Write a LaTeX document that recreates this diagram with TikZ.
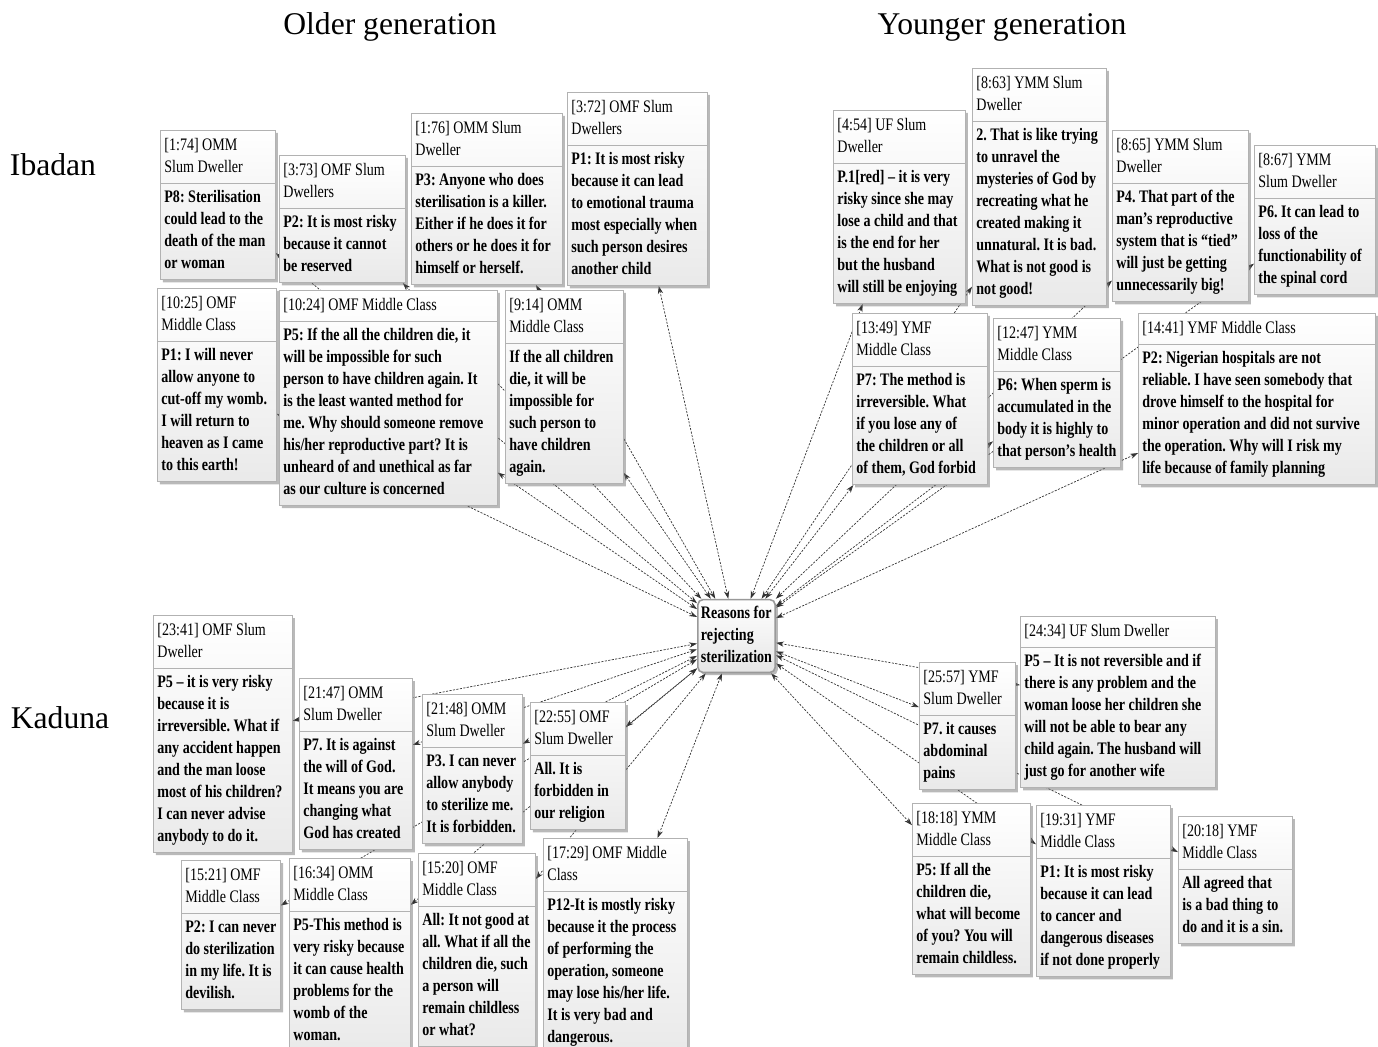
\documentclass[tikz,border=0pt]{standalone}
\usepackage{fontspec}
\setmainfont{Liberation Serif}
\newfontfamily\netfont{Liberation Serif}[FakeStretch=0.8]
\usetikzlibrary{shapes.multipart,shadows,arrows.meta,backgrounds}
\newcommand\qlines[1]{\begin{tabular}{@{}l@{}}#1\end{tabular}}
\frenchspacing

\begin{document}
\begin{tikzpicture}
        [x=0.02cm,y=-0.02cm,
         qbox/.style={rectangle split,rectangle split parts=2,draw=gray!60,
           rectangle split part align=left,minimum width=#1,
           top color=white,bottom color=gray!17,
           drop shadow={shadow xshift=1.5pt,shadow yshift=-1.5pt,fill=black!55},
           anchor=north west,inner xsep=2.3pt,inner ysep=2.3pt,
           font=\netfont\fontsize{10}{12.5}\selectfont},
         hub/.style={draw=gray!80,line width=0.9pt,rounded corners=3pt,
           top color=white,bottom color=gray!20,
           drop shadow={shadow xshift=1.5pt,shadow yshift=-1.5pt,fill=black!55},
           inner xsep=1.8pt,inner ysep=2pt,
           font=\netfont\bfseries\fontsize{10}{12.5}\selectfont},
         link/.style={black!80,line width=0.4pt,dash pattern=on 1.2pt off 0.8pt,
           {Stealth[length=4.5pt,width=3pt]}-{Stealth[length=4.5pt,width=3pt]}},
         heading/.style={font=\fontsize{18}{20}\selectfont}]
        \useasboundingbox (0,0) rectangle (1378,1046);

        \node[heading] (old) at (390,27) {Older generation};
        \node[heading] (young) at (1002,27) {Younger generation};
        \node[heading] (ib) at (53,165) {Ibadan};
        \node[heading] (ka) at (60,718) {Kaduna};

        \node[hub] (R) at (736.5,636) {\qlines{Reasons for\\rejecting\\sterilization}};

        % Ibadan, older generation
        \node[qbox=2.30cm] (I1) at (160,130) {\qlines{[1:74] OMM\\Slum Dweller}\nodepart{two}\bfseries\qlines{P8: Sterilisation\\could lead to the\\death of the man\\or woman}};
        \node[qbox=2.52cm] (I2) at (279,155) {\qlines{[3:73] OMF Slum\\Dwellers}\nodepart{two}\bfseries\qlines{P2: It is most risky\\because it cannot\\be reserved}};
        \node[qbox=3.02cm] (I3) at (411,113) {\qlines{[1:76] OMM Slum\\Dweller}\nodepart{two}\bfseries\qlines{P3: Anyone who does\\sterilisation is a killer.\\Either if he does it for\\others or he does it for\\himself or herself.}};
        \node[qbox=2.80cm] (I4) at (567,92) {\qlines{[3:72] OMF Slum\\Dwellers}\nodepart{two}\bfseries\qlines{P1: It is most risky\\because it can lead\\to emotional trauma\\most especially when\\such person desires\\another child}};
        \node[qbox=2.38cm] (I5) at (157,288) {\qlines{[10:25] OMF\\Middle Class}\nodepart{two}\bfseries\qlines{P1: I will never\\allow anyone to\\cut-off my womb.\\I will return to\\heaven as I came\\to this earth!}};
        \node[qbox=4.36cm] (I6) at (279,290) {\qlines{[10:24] OMF Middle Class}\nodepart{two}\bfseries\qlines{P5: If the all the children die, it\\will be impossible for such\\person to have children again. It\\is the least wanted method for\\me. Why should someone remove\\his/her reproductive part? It is\\unheard of and unethical as far\\as our culture is concerned}};
        \node[qbox=2.36cm] (I7) at (505,290) {\qlines{[9:14] OMM\\Middle Class}\nodepart{two}\bfseries\qlines{If the all children\\die, it will be\\impossible for\\such person to\\have children\\again.}};

        % Ibadan, younger generation
        \node[qbox=2.64cm] (I8) at (833,110) {\qlines{[4:54] UF Slum\\Dweller}\nodepart{two}\bfseries\qlines{P.1[red] – it is very\\risky since she may\\lose a child and that\\is the end for her\\but the husband\\will still be enjoying}};
        \node[qbox=2.68cm] (I9) at (972,68) {\qlines{[8:63] YMM Slum\\Dweller}\nodepart{two}\bfseries\qlines{2. That is like trying\\to unravel the\\mysteries of God by\\recreating what he\\created making it\\unnatural. It is bad.\\What is not good is\\not good!}};
        \node[qbox=2.72cm] (I10) at (1112,130) {\qlines{[8:65] YMM Slum\\Dweller}\nodepart{two}\bfseries\qlines{P4. That part of the\\man’s reproductive\\system that is “tied”\\will just be getting\\unnecessarily big!}};
        \node[qbox=2.42cm] (I11) at (1254,145) {\qlines{[8:67] YMM\\Slum Dweller}\nodepart{two}\bfseries\qlines{P6. It can lead to\\loss of the\\functionability of\\the spinal cord}};
        \node[qbox=2.70cm] (I12) at (852,313) {\qlines{[13:49] YMF\\Middle Class}\nodepart{two}\bfseries\qlines{P7: The method is\\irreversible. What\\if you lose any of\\the children or all\\of them, God forbid}};
        \node[qbox=2.30cm] (I13) at (993,318) {\qlines{[12:47] YMM\\Middle Class}\nodepart{two}\bfseries\qlines{P6: When sperm is\\accumulated in the\\body it is highly to\\that person’s health}};
        \node[qbox=4.74cm] (I14) at (1138,313) {\qlines{[14:41] YMF Middle Class}\nodepart{two}\bfseries\qlines{P2: Nigerian hospitals are not\\reliable. I have seen somebody that\\drove himself to the hospital for\\minor operation and did not survive\\the operation. Why will I risk my\\life because of family planning}};

        % Kaduna, older generation
        \node[qbox=2.78cm] (K1) at (153,615) {\qlines{[23:41] OMF Slum\\Dweller}\nodepart{two}\bfseries\qlines{P5 – it is very risky\\because it is\\irreversible. What if\\any accident happen\\and the man loose\\most of his children?\\I can never advise\\anybody to do it.}};
        \node[qbox=2.26cm] (K2) at (299,678) {\qlines{[21:47] OMM\\Slum Dweller}\nodepart{two}\bfseries\qlines{P7. It is against\\the will of God.\\It means you are\\changing what\\God has created}};
        \node[qbox=2.00cm] (K3) at (422,694) {\qlines{[21:48] OMM\\Slum Dweller}\nodepart{two}\bfseries\qlines{P3. I can never\\allow anybody\\to sterilize me.\\It is forbidden.}};
        \node[qbox=1.90cm] (K4) at (530,702) {\qlines{[22:55] OMF\\Slum Dweller}\nodepart{two}\bfseries\qlines{All. It is\\forbidden in\\our religion}};
        \node[qbox=1.98cm] (K5) at (181,860) {\qlines{[15:21] OMF\\Middle Class}\nodepart{two}\bfseries\qlines{P2: I can never\\do sterilization\\in my life. It is\\devilish.}};
        \node[qbox=2.42cm] (K6) at (289,858) {\qlines{[16:34] OMM\\Middle Class}\nodepart{two}\bfseries\qlines{P5-This method is\\very risky because\\it can cause health\\problems for the\\womb of the\\woman.}};
        \node[qbox=2.34cm] (K7) at (418,853) {\qlines{[15:20] OMF\\Middle Class}\nodepart{two}\bfseries\qlines{All: It not good at\\all. What if all the\\children die, such\\a person will\\remain childless\\or what?}};
        \node[qbox=2.88cm] (K8) at (543,838) {\qlines{[17:29] OMF Middle\\Class}\nodepart{two}\bfseries\qlines{P12-It is mostly risky\\because it the process\\of performing the\\operation, someone\\may lose his/her life.\\It is very bad and\\dangerous.}};

        % Kaduna, younger generation
        \node[qbox=1.92cm] (K9) at (919,662) {\qlines{[25:57] YMF\\Slum Dweller}\nodepart{two}\bfseries\qlines{P7. it causes\\abdominal\\pains}};
        \node[qbox=3.90cm] (K10) at (1020,616) {\qlines{[24:34] UF Slum Dweller}\nodepart{two}\bfseries\qlines{P5 – It is not reversible and if\\there is any problem and the\\woman loose her children she\\will not be able to bear any\\child again. The husband will\\just go for another wife}};
        \node[qbox=2.36cm] (K11) at (912,803) {\qlines{[18:18] YMM\\Middle Class}\nodepart{two}\bfseries\qlines{P5: If all the\\children die,\\what will become\\of you? You will\\remain childless.}};
        \node[qbox=2.68cm] (K12) at (1036,805) {\qlines{[19:31] YMF\\Middle Class}\nodepart{two}\bfseries\qlines{P1: It is most risky\\because it can lead\\to cancer and\\dangerous diseases\\if not done properly}};
        \node[qbox=2.28cm] (K13) at (1178,816) {\qlines{[20:18] YMF\\Middle Class}\nodepart{two}\bfseries\qlines{All agreed that\\is a bad thing to\\do and it is a sin.}};

        \begin{scope}[on background layer]
          \foreach \i in {1,...,14} \draw[link] (I\i) -- (R);
          \foreach \i in {1,...,13} \draw[link] (K\i) -- (R);
        \end{scope}
      \end{tikzpicture}
\end{document}
